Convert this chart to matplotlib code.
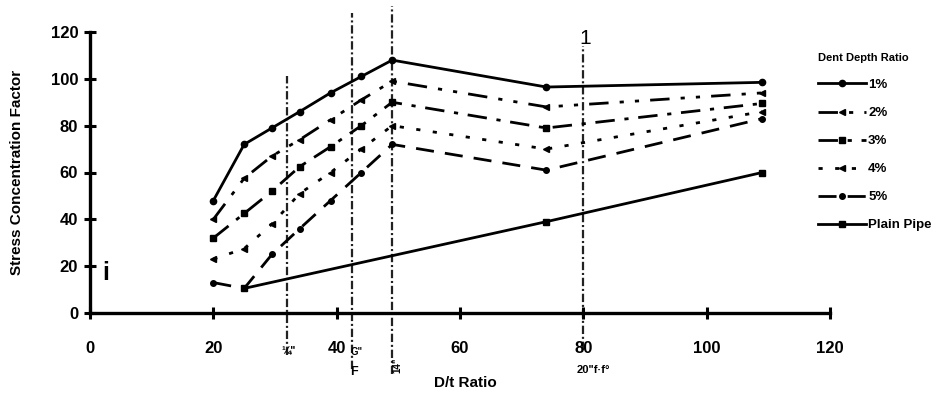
import matplotlib
matplotlib.use("Agg")
import matplotlib.pyplot as plt

plt.rcParams['font.family'] = ['Liberation Sans', 'DejaVu Sans']
plt.rcParams['lines.scale_dashes'] = False

# ---- data ----
dt_ratio = [20, 25, 29.5, 34, 39, 44, 49, 74, 109]
dent_1 = [48, 72, 79, 86, 94, 101, 108, 96.5, 98.5]
dent_2 = [40, 57.5, 67, 74, 82.5, 91, 99, 88, 94]
dent_3 = [32, 42.5, 52, 62.5, 71, 80, 90, 79, 89.5]
dent_4 = [23, 27.5, 38, 51, 60, 70, 80, 70, 86]
dent_5 = [13, 10.5, 25, 36, 48, 60, 72, 61, 83]
plain_x = [25, 74, 109]
plain_y = [10.5, 39, 60]

series_labels = ['1%', '2%', '3%', '4%', '5%', 'Plain Pipe']
legend_title = 'Dent Depth Ratio'
x_ticks = [0, 20, 40, 60, 80, 100, 120]
y_ticks = [0, 20, 40, 60, 80, 100, 120]

# hand-drawn reference marks on the scan (x in D/t units)
ref_x = [32, 42.5, 49, 80]
ref_top = [101, 128, 131, 114]
ref_bottom = [-18, -24, -26, -16]

fig = plt.figure(figsize=(9.51, 3.95), dpi=100)
ax = fig.add_axes([90 / 951, 1 - 313 / 395, (830 - 90) / 951, (313 - 32) / 395])

lw = 2.0
ax.plot(dt_ratio, dent_1, color='black', lw=lw, ls='-', marker='o', ms=4.5, label=series_labels[0])
ax.plot(dt_ratio, dent_2, color='black', lw=lw, ls=(0, (14, 8, 3, 8, 3, 8)), marker='<', ms=4.5, label=series_labels[1])
ax.plot(dt_ratio, dent_3, color='black', lw=lw, ls=(0, (14, 7, 3, 7)), marker='s', ms=4.5, label=series_labels[2])
ax.plot(dt_ratio, dent_4, color='black', lw=lw, ls=(0, (3, 9)), marker='<', ms=4.5, label=series_labels[3])
ax.plot(dt_ratio, dent_5, color='black', lw=lw, ls=(0, (13, 8)), marker='o', ms=4, label=series_labels[4])
ax.plot(plain_x, plain_y, color='black', lw=lw, ls='-', marker='s', ms=4.5, label=series_labels[5],
        markerfacecolor='black')

# reference vertical marks
for x, y0, y1 in zip(ref_x, ref_top, ref_bottom):
    ax.plot([x, x], [y1, y0], color='#222222', lw=1.6, ls=(0, (6, 2, 1.5, 2)), clip_on=False, zorder=1)

ax.set_xlim(0, 120)
ax.set_ylim(0, 120)
ax.set_xticks(x_ticks)
ax.set_yticks(y_ticks)
for s in ['top', 'right']:
    ax.spines[s].set_visible(False)
for s in ['left', 'bottom']:
    ax.spines[s].set_linewidth(2.4)
ax.tick_params(axis='both', direction='inout', length=9, width=2.2)
ax.tick_params(axis='x', pad=16, labelsize=12)
ax.tick_params(axis='y', pad=4, labelsize=12)
for lab in ax.get_xticklabels() + ax.get_yticklabels():
    lab.set_fontweight('bold')

fig.text(17 / 951, 1 - 172 / 395, 'Stress Concentration Factor', rotation=90,
         ha='center', va='center', fontsize=11, fontweight='bold')
fig.text(465 / 951, 1 - 383 / 395, 'D/t Ratio', ha='center', va='center',
         fontsize=11, fontweight='bold')

# scribbled annotations on the scan
fig.text(585 / 951, 1 - 38 / 395, '1', ha='center', va='center', fontsize=15)
fig.text(289 / 951, 1 - 350 / 395, '¼"', ha='center', va='center', fontsize=8, fontweight='bold')
fig.text(357 / 951, 1 - 352 / 395, 'G"', ha='center', va='center', fontsize=7, fontweight='bold')
fig.text(354 / 951, 1 - 372 / 395, 'F', ha='center', va='center', fontsize=9, fontweight='bold')
fig.text(397 / 951, 1 - 365 / 395, '14"', ha='center', va='center', fontsize=7, fontweight='bold', rotation=90)
fig.text(593 / 951, 1 - 370 / 395, '20"f·f°', ha='center', va='center', fontsize=8, fontweight='bold')
fig.text(106 / 951, 1 - 273 / 395, 'i', ha='center', va='center', fontsize=18, fontweight='bold')

handles, labels = ax.get_legend_handles_labels()
leg = fig.legend(handles, labels, title=legend_title, loc='upper left',
                 bbox_to_anchor=(818 / 951, 1 - 53 / 395), frameon=False,
                 fontsize=9.5, title_fontsize=8, handlelength=3.6, handletextpad=0.2,
                 labelspacing=1.2, borderpad=0, borderaxespad=0)
leg._legend_box.align = 'left'
for t in leg.get_texts():
    t.set_fontweight('bold')
leg.get_title().set_fontweight('bold')

fig.savefig('out.png', dpi=100, facecolor='white')
